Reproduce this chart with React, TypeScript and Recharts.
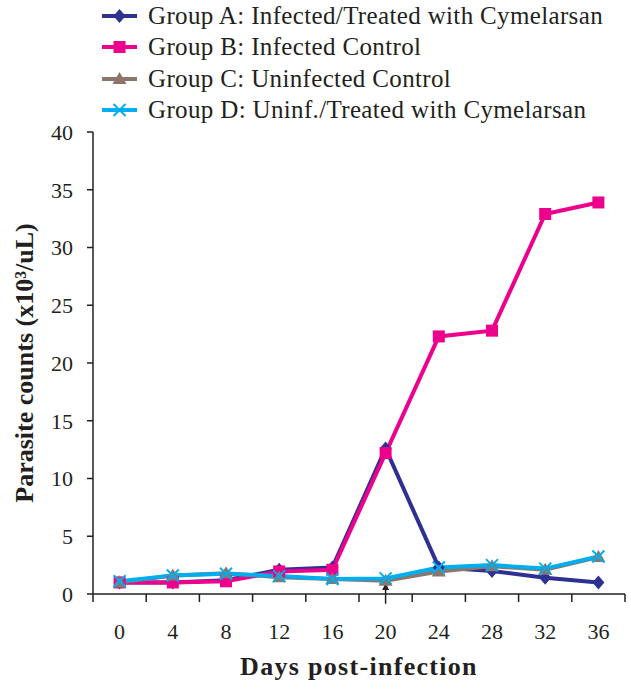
import React from 'react';
import { LineChart, Line, XAxis, YAxis, ReferenceLine, Label } from 'recharts';

const days = [0, 4, 8, 12, 16, 20, 24, 28, 32, 36];
const groupA = [1.0, 1.0, 1.2, 2.1, 2.3, 12.6, 2.3, 2.0, 1.4, 1.0];
const groupB = [1.0, 1.0, 1.1, 1.95, 2.1, 12.2, 22.3, 22.8, 32.9, 33.9];
const groupC = [1.0, 1.6, 1.8, 1.45, 1.3, 1.15, 1.95, 2.4, 2.1, 3.2];
const groupD = [1.1, 1.6, 1.75, 1.55, 1.3, 1.35, 2.3, 2.5, 2.2, 3.25];

const xTicks = [-2, 0, 2, 4, 6, 8, 10, 12, 14, 16, 18, 20, 22, 24, 26, 28, 30, 32, 34, 36, 38];
const yTicks = [0, 5, 10, 15, 20, 25, 30, 35, 40];

const data = days.map((d, i) => ({ day: d, a: groupA[i], b: groupB[i], c: groupC[i], d: groupD[i] }));

const INK = '#231F20';
const FONT = '"Liberation Serif", serif';

const COLORS = { a: '#2E3192', b: '#EC008C', c: '#8C766C', d: '#00AEEF' };

const Diamond = ({ cx, cy, fill }: any) =>
  cx == null ? null : <polygon points={`${cx},${cy - 7} ${cx + 6},${cy} ${cx},${cy + 7} ${cx - 6},${cy}`} fill={fill} />;
const Square = ({ cx, cy, fill }: any) =>
  cx == null ? null : <rect x={cx - 6} y={cy - 6} width={12} height={12} fill={fill} />;
const Triangle = ({ cx, cy, fill }: any) =>
  cx == null ? null : <polygon points={`${cx},${cy - 7} ${cx + 7},${cy + 5} ${cx - 7},${cy + 5}`} fill={fill} />;
const Cross = ({ cx, cy, fill }: any) =>
  cx == null ? null : (
    <g stroke={fill} strokeWidth={2}>
      <line x1={cx - 6} y1={cy - 6} x2={cx + 6} y2={cy + 6} />
      <line x1={cx - 6} y1={cy + 6} x2={cx + 6} y2={cy - 6} />
    </g>
  );

const legendItems = [
  { label: 'Group A: Infected/Treated with Cymelarsan', color: COLORS.a, Marker: Diamond },
  { label: 'Group B: Infected Control', color: COLORS.b, Marker: Square },
  { label: 'Group C: Uninfected Control', color: COLORS.c, Marker: Triangle },
  { label: 'Group D: Uninf./Treated with Cymelarsan', color: COLORS.d, Marker: Cross },
];

// ticks at odd positions are just the marks between categories
const DayTick = (props: any) => {
  const { x, y, payload } = props;
  const v = payload.value;
  if (Math.abs(v % 4) === 2) {
    return <line x1={x} y1={y} x2={x} y2={y + 8} stroke={INK} strokeWidth={1.5} />;
  }
  return (
    <text x={x} y={y + 45} textAnchor="middle" fontSize={22} fontFamily={FONT} fill={INK}>
      {v}
    </text>
  );
};

const Arrow = (p: any) => {
  const { x1, y1, x2, y2 } = p;
  return (
    <g>
      <line x1={x1} y1={y1} x2={x2} y2={y2 + 5} stroke={INK} strokeWidth={1.5} />
      <polygon points={`${x2 - 3.5},${y2 + 7} ${x2 + 3.5},${y2 + 7} ${x2},${y2}`} fill={INK} />
    </g>
  );
};

export default function App() {
  return (
    <div style={{ position: 'absolute', left: 0, top: 0, width: 631, height: 689, background: '#fff' }}>
      <div
        style={{
          position: 'absolute',
          left: 100,
          top: 0,
          fontFamily: FONT,
          fontSize: 25,
          letterSpacing: 0.35,
          color: INK,
          zIndex: 2,
        }}
      >
        {legendItems.map(({ label, color, Marker }) => (
          <div key={label} style={{ display: 'flex', alignItems: 'center', height: 31.5 }}>
            <svg width={40} height={20} style={{ marginRight: 8 }}>
              <line x1={2} y1={10} x2={37} y2={10} stroke={color} strokeWidth={4} />
              <Marker cx={19.5} cy={10} fill={color} />
            </svg>
            <span style={{ whiteSpace: 'nowrap' }}>{label}</span>
          </div>
        ))}
      </div>
      <LineChart width={631} height={689} data={data} margin={{ top: 132, right: 6, bottom: 0, left: 0 }}>
        <XAxis
          dataKey="day"
          type="number"
          domain={[-2, 38]}
          ticks={xTicks}
          interval={0}
          tick={<DayTick />}
          tickLine={false}
          tickSize={0}
          tickMargin={0}
          height={95}
          axisLine={{ stroke: INK, strokeWidth: 1.5 }}
        >
          <Label
            value="Days post-infection"
            position="insideBottom"
            offset={14}
            style={{ fontFamily: FONT, fontSize: 26, fontWeight: 'bold', fill: INK, letterSpacing: 1.3 }}
          />
        </XAxis>
        <YAxis
          type="number"
          domain={[0, 40]}
          ticks={yTicks}
          interval={0}
          width={93}
          tickSize={6}
          tickMargin={14}
          axisLine={{ stroke: INK, strokeWidth: 1.5 }}
          tickLine={{ stroke: INK, strokeWidth: 1.5 }}
          tick={{ fontFamily: FONT, fontSize: 22, fill: INK }}
        >
          <Label
            value="Parasite counts (x10³/uL)"
            angle={-90}
            position="insideLeft"
            offset={24}
            style={{ fontFamily: FONT, fontSize: 26, fontWeight: 'bold', fill: INK, textAnchor: 'middle' }}
          />
        </YAxis>
        <ReferenceLine
          segment={[{ x: 20, y: -0.85 }, { x: 20, y: 0.95 }]}
          ifOverflow="visible"
          shape={<Arrow />}
        />
        <Line dataKey="a" stroke={COLORS.a} strokeWidth={4} dot={<Diamond fill={COLORS.a} />} isAnimationActive={false} />
        <Line dataKey="b" stroke={COLORS.b} strokeWidth={4} dot={<Square fill={COLORS.b} />} isAnimationActive={false} />
        <Line dataKey="c" stroke={COLORS.c} strokeWidth={4} dot={<Triangle fill={COLORS.c} />} isAnimationActive={false} />
        <Line dataKey="d" stroke={COLORS.d} strokeWidth={4} dot={<Cross fill={COLORS.d} />} isAnimationActive={false} />
      </LineChart>
    </div>
  );
}
